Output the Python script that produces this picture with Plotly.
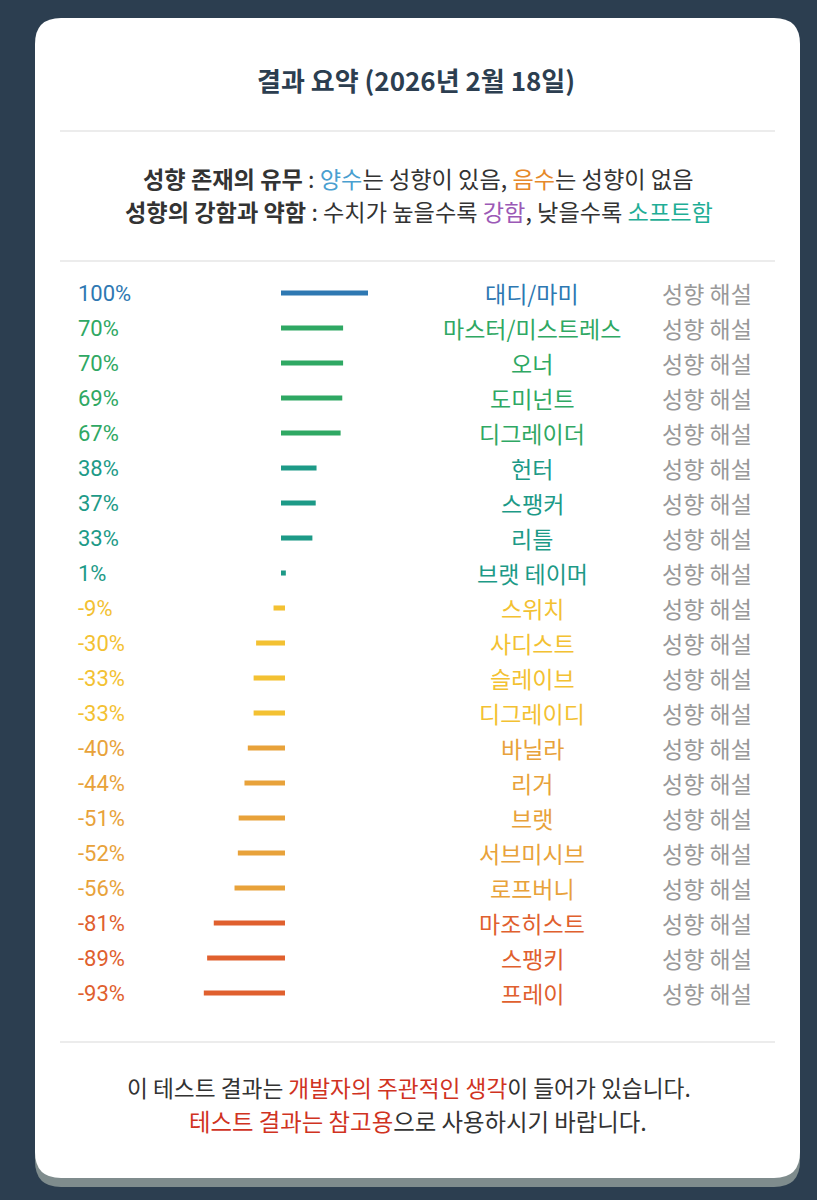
import plotly.graph_objects as go

W, H = 817, 1200

names = ['대디/마미', '마스터/미스트레스', '오너', '도미넌트', '디그레이더', '헌터', '스팽커', '리틀',
         '브랫 테이머', '스위치', '사디스트', '슬레이브', '디그레이디', '바닐라', '리거', '브랫',
         '서브미시브', '로프버니', '마조히스트', '스팽키', '프레이']
values = [100, 70, 70, 69, 67, 38, 37, 33, 1, -9, -30, -33, -33, -40, -44, -51, -52, -56, -81, -89, -93]
link_text = '성향 해설'

title = '결과 요약 (2026년 2월 18일)'


def color_for(v):
    # colour bands by score
    if v >= 100:
        return '#2e78b2'
    if v >= 50:
        return '#2fa863'
    if v >= 0:
        return '#1d9a87'
    if v >= -35:
        return '#f3c132'
    if v >= -60:
        return '#e8a23a'
    return '#e0602e'


def px(x):
    return x / W


def py(y):
    return 1 - y / H


def rounded_rect(x0, y0, x1, y1, r):
    rx, ry = r / W, r / H
    a, b, c, d = px(x0), py(y0), px(x1), py(y1)
    return (f'M {a + rx},{b} L {c - rx},{b} Q {c},{b} {c},{b - ry} '
            f'L {c},{d + ry} Q {c},{d} {c - rx},{d} '
            f'L {a + rx},{d} Q {a},{d} {a},{d + ry} '
            f'L {a},{b - ry} Q {a},{b} {a + rx},{b} Z')


colors = [color_for(v) for v in values]

fig = go.Figure(go.Bar(
    x=values, y=names, orientation='h', width=0.03,
    marker=dict(color=colors, line=dict(color=colors, width=4)),
    hoverinfo='skip'
))

# card + shadow
fig.add_shape(type='path', xref='paper', yref='paper', path=rounded_rect(35, 26, 800, 1187, 26),
              fillcolor='#7f8c8d', line_width=0, layer='below')
fig.add_shape(type='path', xref='paper', yref='paper', path=rounded_rect(35, 18, 800, 1178, 26),
              fillcolor='white', line_width=0, layer='below')
for yy in [131, 261, 1042]:
    fig.add_shape(type='line', xref='paper', yref='paper', x0=px(60), x1=px(775), y0=py(yy), y1=py(yy),
                  line=dict(color='#ececec', width=2), layer='below')

font = 'Noto Sans CJK KR'
ann = []
ann.append(dict(x=px(416), y=py(80), text=f'<b>{title}</b>', font=dict(size=26, color='#2c3e50')))
ann.append(dict(x=px(418), y=py(178),
                text="<b>성향 존재의 유무</b> : <span style='color:#4a9fd0'>양수</span>는 성향이 있음, "
                     "<span style='color:#e6892a'>음수</span>는 성향이 없음",
                font=dict(size=23.2, color='#333333')))
ann.append(dict(x=px(419), y=py(211),
                text="<b>성향의 강함과 약함</b> : 수치가 높을수록 <span style='color:#9b59b6'>강함</span>, "
                     "낮을수록 <span style='color:#1fae96'>소프트함</span>",
                font=dict(size=23.2, color='#333333')))
ann.append(dict(x=px(409), y=py(1087),
                text="이 테스트 결과는 <span style='color:#d0331f'>개발자의 주관적인 생각</span>이 들어가 있습니다.",
                font=dict(size=22.7, color='#333333')))
ann.append(dict(x=px(418), y=py(1121),
                text="<span style='color:#d0331f'>테스트 결과는 참고용</span>으로 사용하시기 바랍니다.",
                font=dict(size=23.4, color='#333333')))
for a in ann:
    a.update(xref='paper', yref='paper', showarrow=False, xanchor='center', yanchor='middle')

for n, v, c in zip(names, values, colors):
    ann.append(dict(x=px(76), y=n, xref='paper', yref='y', text=f'{v}%', showarrow=False,
                    xanchor='left', yanchor='middle', font=dict(size=22, color=c, family='Roboto')))
    ann.append(dict(x=px(532), y=n, xref='paper', yref='y', text=n, showarrow=False,
                    xanchor='center', yanchor='middle', font=dict(size=23, color=c)))
    ann.append(dict(x=px(707), y=n, xref='paper', yref='y', text=link_text, showarrow=False,
                    xanchor='center', yanchor='middle', font=dict(size=23, color='#999999')))

slope = 0.83  # px per percent
zero_px = 283
row0, step = 293, 35

fig.update_layout(
    width=W, height=H, margin=dict(l=0, r=0, t=0, b=0),
    paper_bgcolor='#2c3e50', plot_bgcolor='rgba(0,0,0,0)',
    font=dict(family=font),
    showlegend=False, annotations=ann,
    xaxis=dict(range=[-zero_px / slope, (W - zero_px) / slope], visible=False, fixedrange=True),
    yaxis=dict(type='category', range=[(H - row0) / step, -row0 / step], visible=False, fixedrange=True),
)

fig.write_html('out.html', config={'displayModeBar': False},
               post_script="document.body.style.margin='0';document.body.style.overflow='hidden';")
